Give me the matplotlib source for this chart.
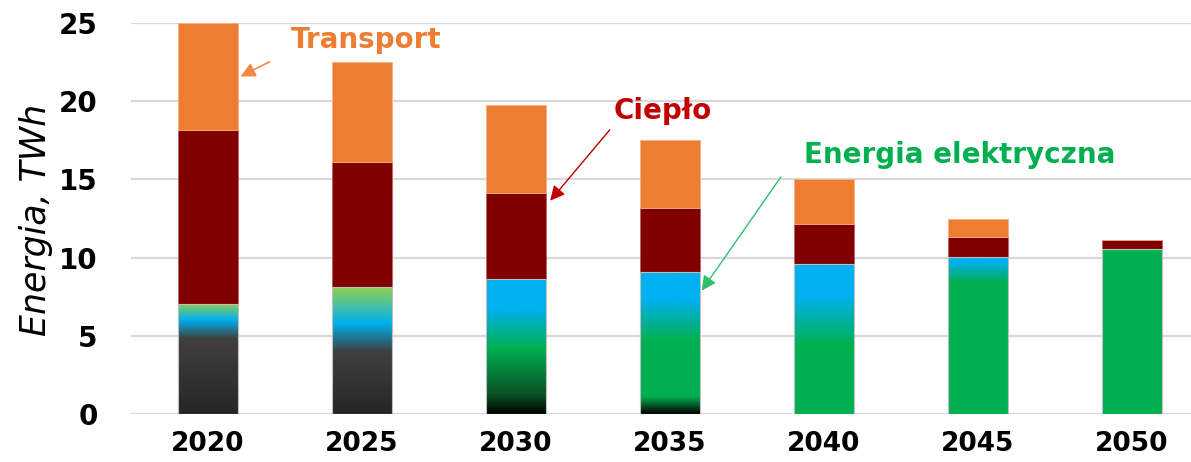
import numpy as np
import matplotlib.pyplot as plt
from matplotlib.colors import LinearSegmentedColormap
from matplotlib.patches import Rectangle

# dane (TWh)
years = ['2020', '2025', '2030', '2035', '2040', '2045', '2050']
elektr = [7.05, 8.1, 8.65, 9.05, 9.6, 10.05, 10.55]
cieplo = [11.1, 8.0, 5.45, 4.1, 2.55, 1.25, 0.6]
transport = [6.85, 6.4, 5.65, 4.35, 2.9, 1.2, 0.0]

# miks energii elektrycznej w słupku: (poziom TWh, kolor) od dołu
miks = [
    [(0, '#262626'), (4.8, '#404040'), (6.0, '#00B0F0'), (7.05, '#92D050')],
    [(0, '#262626'), (4.0, '#404040'), (5.8, '#00B0F0'), (8.1, '#92D050')],
    [(0, '#000000'), (1.2, '#0B4F24'), (4.2, '#00B050'), (6.7, '#00B0F0'), (8.65, '#00B0F0')],
    [(0, '#000000'), (1.1, '#00B050'), (4.7, '#00B050'), (7.3, '#00B0F0'), (9.05, '#00B0F0')],
    [(0, '#00B050'), (4.4, '#00B050'), (7.5, '#00B0F0'), (9.6, '#00B0F0')],
    [(0, '#00B050'), (8.4, '#00B050'), (9.7, '#00B0F0'), (10.05, '#00B0F0')],
    [(0, '#00B050'), (10.55, '#00B050')],
]

x = np.arange(len(years))
w = 0.39

fig = plt.figure(figsize=(11.91, 4.62), dpi=100)
ax = fig.add_axes([0.11, 0.1039, 0.89, 0.8463])

# siatka
for v in range(0, 26, 5):
    ax.axhline(v, color='#D9D9D9', lw=1.6, zorder=0)

# energia elektryczna - gradient w słupku
for i in range(len(years)):
    rect = Rectangle((x[i] - w / 2, 0), w, elektr[i], facecolor='none',
                     edgecolor='#BFBFBF', lw=0.8, zorder=3)
    ax.add_patch(rect)
    stops = [(v / elektr[i], c) for v, c in miks[i]]
    cmap = LinearSegmentedColormap.from_list('m%d' % i, stops)
    grad = np.linspace(0, 1, 256).reshape(-1, 1)
    im = ax.imshow(grad, cmap=cmap, origin='lower', aspect='auto',
                   extent=(x[i] - w / 2, x[i] + w / 2, 0, elektr[i]), zorder=2)
    im.set_clip_path(rect)

ax.bar(x, cieplo, w, bottom=elektr, color='#800000', edgecolor='#C06060',
       lw=0.6, zorder=2)
bot2 = np.array(elektr) + np.array(cieplo)
ax.bar(x, transport, w, bottom=bot2, color='#ED7D31', edgecolor='#F4B183',
       lw=0.6, zorder=2)

ax.set_xlim(-0.5, 6.383)
ax.set_ylim(0, 25)
ax.set_xticks(x)
ax.set_xticklabels(years, fontsize=19, fontweight='bold')
ax.set_yticks(range(0, 26, 5))
ax.set_yticklabels([str(v) for v in range(0, 26, 5)], fontsize=20, fontweight='bold')
ax.tick_params(axis='both', length=0)
ax.tick_params(axis='x', pad=12)
ax.tick_params(axis='y', pad=24)
for s in ax.spines.values():
    s.set_visible(False)

ax.set_ylabel('Energia, TWh', fontsize=25, fontstyle='italic')
ax.yaxis.set_label_coords(-0.074, 0.496)

# opisy ze strzałkami
ax.text(1.03, 23.9, 'Transport', color='#ED7D31', fontsize=20,
        fontweight='bold', ha='center', va='center')
ax.annotate('', xy=(0.195, 21.5), xytext=(0.415, 22.6),
            arrowprops=dict(arrowstyle='-|>', color='#F08A45', lw=1.2,
                            mutation_scale=22))
ax.text(2.955, 19.4, 'Ciepło', color='#C00000', fontsize=20,
        fontweight='bold', ha='center', va='center')
ax.annotate('', xy=(2.21, 13.5), xytext=(2.62, 18.3),
            arrowprops=dict(arrowstyle='-|>', color='#C00000', lw=1.0,
                            mutation_scale=22))
ax.text(4.88, 16.56, 'Energia elektryczna', color='#00B050', fontsize=20,
        fontweight='bold', ha='center', va='center')
ax.annotate('', xy=(3.195, 7.74), xytext=(3.73, 15.3),
            arrowprops=dict(arrowstyle='-|>', color='#2DC06E', lw=1.0,
                            mutation_scale=22))

fig.savefig('out.png', dpi=100)
